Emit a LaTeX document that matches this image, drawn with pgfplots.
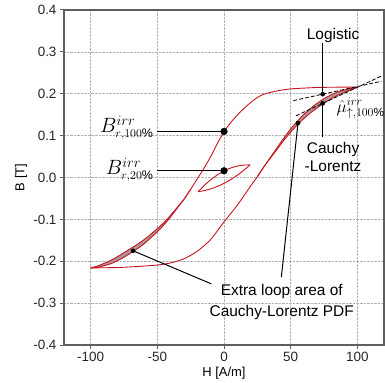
\documentclass[border=0pt]{standalone}
\usepackage{pgfplots}
\pgfplotsset{compat=1.18}
\usepackage{fontspec}
\setmainfont{Liberation Sans}
\definecolor{cred}{RGB}{200,20,30}
\definecolor{band}{RGB}{172,152,152}
\definecolor{axgray}{RGB}{95,95,95}
\newcommand{\supsz}[1]{\mbox{\fontsize{14}{14}\selectfont$#1$}}
\newcommand{\subsz}[1]{\mbox{\fontsize{12.5}{12.5}\selectfont$#1$}}
\begin{document}
\begin{tikzpicture}
\begin{axis}[
  name=ax,
  scale only axis, width=320bp, height=335bp,
  xmin=-120, xmax=120, ymin=-0.4, ymax=0.4,
  xtick={-100,-50,0,50,100}, xticklabels={-100,-50,0,50,100},
  ytick={-0.4,-0.3,-0.2,-0.1,0,0.1,0.2,0.3,0.4},
  yticklabels={-0.4,-0.3,-0.2,-0.1,0.0,0.1,0.2,0.3,0.4},
  xtick pos=left, ytick pos=left,
  tick align=outside, major tick length=4bp,
  grid=major, grid style={densely dotted, gray!60, line width=0.55pt},
  axis line style={axgray, line width=1.3pt},
  tick style={axgray, line width=1pt},
  ticklabel style={font=\fontsize{13.5}{15}\selectfont, text=black!85},
  xlabel={H [A/m]}, ylabel={B [T]},
  label style={font=\fontsize{13}{14}\selectfont},
  xlabel style={at={(axis description cs:0.5,-0.083)}, anchor=center},
  ylabel style={at={(axis description cs:-0.134,0.5)}, anchor=center},
  clip=false,
]
% grey bands (extra loop area)
\addplot[fill=band, draw=none] coordinates {
 (30,0.026) (35,0.0489) (40,0.0718) (45,0.09475) (50,0.11565) (55,0.13435) (60,0.15095) (65,0.1653) (70,0.1775) (75,0.1883) (80,0.19675) (85,0.20395) (90,0.20885) (95,0.21255) (100,0.215)
 (95,0.20945) (90,0.20315) (85,0.19605) (80,0.18725) (75,0.1777) (70,0.1665) (65,0.1547) (60,0.14105) (55,0.12565) (50,0.10835) (45,0.08925) (40,0.0682) (35,0.0471) (30,0.026)} -- cycle;
\addplot[fill=band, draw=none] coordinates {
 (-100,-0.216) (-95,-0.21145) (-90,-0.20515) (-85,-0.19805) (-80,-0.18925) (-75,-0.1797) (-70,-0.1695) (-65,-0.1597) (-60,-0.14855) (-55,-0.13565) (-50,-0.12235) (-45,-0.10725) (-40,-0.0902) (-35,-0.0711) (-30,-0.052)
 (-35,-0.0729) (-40,-0.0938) (-45,-0.11275) (-50,-0.12965) (-55,-0.14435) (-60,-0.15845) (-65,-0.1703) (-70,-0.1805) (-75,-0.1903) (-80,-0.19875) (-85,-0.20595) (-90,-0.21085) (-95,-0.21455) (-100,-0.216)} -- cycle;
% ascending branch (Cauchy-Lorentz, wider loop)
\addplot[cred, line width=0.9pt, smooth] coordinates {
 (-100,-0.216) (-90,-0.2155) (-80,-0.215) (-70,-0.2135) (-60,-0.2115) (-50,-0.209) (-40,-0.204) (-30,-0.194) (-20,-0.176) (-10,-0.148) (0,-0.106) (10,-0.066) (17,-0.034) (20,-0.020) (25,0.002) (30,0.026)
 (35,0.0471) (40,0.0682) (45,0.08925) (50,0.10835) (55,0.12565) (60,0.14105) (65,0.1547) (70,0.1665) (75,0.1777) (80,0.18725) (85,0.19605) (90,0.20315) (95,0.20945) (100,0.215)};
% ascending branch (logistic)
\addplot[cred, line width=0.9pt, smooth] coordinates {
 (25,0.002) (30,0.026) (35,0.0489) (40,0.0718) (45,0.09475) (50,0.11565) (55,0.13435) (60,0.15095) (65,0.1653) (70,0.1775) (75,0.1883) (80,0.19675) (85,0.20395) (90,0.20885) (95,0.21255) (100,0.215)};
% descending branch (Cauchy-Lorentz)
\addplot[cred, line width=0.9pt, smooth] coordinates {
 (100,0.216) (90,0.2158) (80,0.2155) (70,0.215) (60,0.2135) (50,0.2115) (40,0.207) (30,0.199) (25,0.191) (20,0.179) (15,0.165) (10,0.149) (5,0.131) (0,0.109) (-5,0.081) (-10,0.050) (-15,0.022) (-20,-0.003) (-25,-0.028) (-30,-0.052)
 (-35,-0.0711) (-40,-0.0902) (-45,-0.10725) (-50,-0.12235) (-55,-0.13565) (-60,-0.14855) (-65,-0.1597) (-70,-0.1695) (-75,-0.1797) (-80,-0.18925) (-85,-0.19805) (-90,-0.20515) (-95,-0.21145) (-100,-0.216)};
% descending branch (logistic)
\addplot[cred, line width=0.9pt, smooth] coordinates {
 (-25,-0.028) (-30,-0.052) (-35,-0.0729) (-40,-0.0938) (-45,-0.11275) (-50,-0.12965) (-55,-0.14435) (-60,-0.15845) (-65,-0.1703) (-70,-0.1805) (-75,-0.1903) (-80,-0.19875) (-85,-0.20595) (-90,-0.21085) (-95,-0.21455) (-100,-0.216)};
% minor loop
\addplot[cred, line width=0.9pt, smooth] coordinates {
 (-19.5,-0.034) (-15,-0.0195) (-10,-0.0055) (-5,0.0062) (0,0.0155) (5,0.0226) (10,0.0273) (15,0.0297) (19.5,0.030)};
\addplot[cred, line width=0.9pt, smooth] coordinates {
 (-19.5,-0.034) (-15,-0.0315) (-10,-0.0272) (-5,-0.0214) (0,-0.014) (5,-0.005) (10,0.0056) (15,0.0177) (19.5,0.030)};
% dashed tangents
\addplot[black, line width=0.8pt, dash pattern=on 4pt off 2pt] coordinates {(52,0.1836) (118,0.2298)};
\addplot[black, line width=0.8pt, dash pattern=on 4pt off 2pt] coordinates {(54,0.1474) (119,0.2436)};
% pointer lines
\addplot[black, line width=1pt] coordinates {(-50,0.11) (0,0.11)};
\addplot[black, line width=1pt] coordinates {(-50,0.016) (0,0.016)};
\addplot[black, line width=1pt] coordinates {(74,0.32) (74,0.199)};
\addplot[black, line width=1pt] coordinates {(74,0.177) (74,0.096)};
\addplot[black, line width=1pt] coordinates {(-68.2,-0.175) (-9.5,-0.254)};
\addplot[black, line width=1pt] coordinates {(55.5,0.13) (43,-0.238)};
% dots
\addplot[only marks, mark=*, mark size=3.4pt, black] coordinates {(0,0.11) (0,0.016)};
\addplot[only marks, mark=*, mark size=2.1pt, black] coordinates {(74,0.199) (74,0.177) (55.5,0.13) (-68.2,-0.175)};
% labels
\node[anchor=east, font=\fontsize{22}{24}\selectfont, inner sep=1pt] at (axis cs:-52,0.118) {$B^{\supsz{irr}}_{\subsz{r{,}100\%}}$};
\node[anchor=east, font=\fontsize{22}{24}\selectfont, inner sep=1pt] at (axis cs:-52,0.018) {$B^{\supsz{irr}}_{\subsz{r{,}20\%}}$};
\node[font=\fontsize{15.5}{18}\selectfont] at (axis cs:81.8,0.34) {Logistic};
\node[align=center, font=\fontsize{15.5}{19}\selectfont] at (axis cs:81.8,0.049) {Cauchy\\-Lorentz};
\node[font=\fontsize{17}{19}\selectfont, inner sep=0pt] at (axis cs:102.5,0.165) {$\hat{\mu}^{irr}_{\uparrow{,}100\%}$};
\node[align=center, font=\fontsize{15.5}{20.7}\selectfont] at (axis cs:43.3,-0.297) {Extra loop area of\\Cauchy-Lorentz PDF};
\end{axis}
\pgfresetboundingbox
\path[use as bounding box] ([shift={(-64bp,-38bp)}]ax.south west) rectangle ([shift={(1bp,10bp)}]ax.north east);
\end{tikzpicture}
\end{document}
